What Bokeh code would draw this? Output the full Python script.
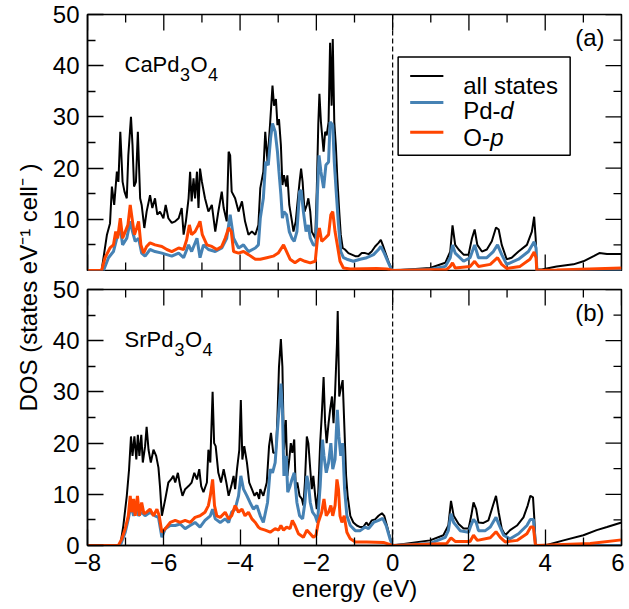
import math
from bokeh.plotting import figure
from bokeh.models import Range1d, FixedTicker, Span, Label, BoxAnnotation
from bokeh.layouts import row, column
from bokeh.embed import file_html
from bokeh.resources import INLINE

# ---------------- data ----------------
ca_all_e = [-8, -7.63, -7.49, -7.41, -7.36, -7.30, -7.23, -7.19, -7.14, -7.08, -7.03, -6.97, -6.93, -6.86, -6.82, -6.78, -6.73, -6.68, -6.62, -6.58, -6.51, -6.45, -6.36, -6.30, -6.23, -6.17, -6.10, -6.01, -5.95, -5.88, -5.79, -5.70, -5.61, -5.53, -5.48, -5.42, -5.35, -5.31, -5.27, -5.22, -5.18, -5.13, -5.09, -5.05, -5.00, -4.92, -4.83, -4.74, -4.65, -4.57, -4.48, -4.43, -4.35, -4.30, -4.26, -4.22, -4.13, -4.04, -3.95, -3.87, -3.78, -3.69, -3.60, -3.52, -3.47, -3.39, -3.34, -3.28, -3.21, -3.15, -3.11, -3.06, -3.02, -2.98, -2.93, -2.89, -2.85, -2.79, -2.76, -2.71, -2.64, -2.60, -2.54, -2.50, -2.44, -2.40, -2.36, -2.31, -2.25, -2.21, -2.16, -2.12, -2.03, -1.99, -1.95, -1.92, -1.88, -1.81, -1.77, -1.73, -1.68, -1.64, -1.60, -1.57, -1.53, -1.49, -1.45, -1.40, -1.36, -1.31, -1.25, -1.16, -1.07, -0.98, -0.90, -0.81, -0.72, -0.63, -0.55, -0.46, -0.37, -0.31, -0.26, -0.20, -0.11, -0.02, 0.02, 0.98, 1.38, 1.51, 1.57, 1.64, 1.73, 1.86, 1.99, 2.08, 2.15, 2.22, 2.34, 2.47, 2.60, 2.71, 2.78, 2.86, 2.99, 3.12, 3.30, 3.52, 3.65, 3.71, 3.75, 3.78, 3.91, 4.30, 4.74, 5.00, 5.27, 5.42, 5.62, 6.0]
ca_all_v = [0, 0, 7, 9.2, 16.4, 12.8, 19.3, 17.3, 27.1, 17.3, 15.4, 14.1, 22.5, 30, 24.5, 16.4, 17.3, 27.1, 14.1, 12.8, 8.3, 11.5, 14.7, 12.2, 14.1, 10.9, 11.5, 10.2, 12.8, 10.2, 9.3, 9.6, 10.2, 12.2, 7, 9.6, 14.1, 19.3, 13.5, 18, 14.1, 19.3, 12.2, 19.9, 17.3, 14.1, 11.5, 12.8, 7.6, 11.5, 15.4, 12.2, 9.6, 23.2, 22.5, 15.4, 14.1, 11.5, 13.5, 9.6, 7, 7.6, 7, 8.9, 16.1, 19.3, 27.1, 21.2, 29, 36.1, 32.2, 33.5, 28.4, 29.6, 24.5, 16.7, 18.6, 16.4, 18.6, 12.8, 9.6, 7.6, 9.6, 12.8, 17.3, 19.9, 17.3, 11.5, 12.8, 14.1, 11.5, 7.6, 6.3, 15.4, 28.4, 34.5, 29, 23.2, 27.1, 26.4, 29, 44.5, 32.2, 45.2, 29, 24.5, 18, 11.5, 7, 4.4, 4.1, 3.4, 3.1, 2.8, 2.8, 3.4, 3.4, 3.2, 3.7, 4.7, 5.4, 6, 5, 3.7, 1.8, 0.2, 0, 0.5, 1.5, 3.7, 8.8, 5, 4.1, 3.1, 3.1, 6.3, 8, 5, 3.7, 4.1, 5.7, 8.4, 8, 5, 2.2, 2.5, 3.7, 5, 7.6, 10.5, 6.3, 0.2, 0.2, 0.8, 1.2, 1.8, 2.8, 3.4, 3.2, 3.2]

ca_pd_e = [-8, -7.58, -7.45, -7.32, -7.23, -7.14, -7.08, -6.97, -6.88, -6.82, -6.75, -6.66, -6.58, -6.49, -6.36, -6.23, -6.05, -5.92, -5.79, -5.61, -5.48, -5.35, -5.27, -5.13, -5.05, -4.96, -4.83, -4.65, -4.48, -4.35, -4.26, -4.17, -4.04, -3.91, -3.78, -3.60, -3.52, -3.47, -3.39, -3.33, -3.26, -3.20, -3.15, -3.08, -3.02, -2.98, -2.93, -2.89, -2.85, -2.78, -2.71, -2.64, -2.58, -2.51, -2.44, -2.40, -2.34, -2.27, -2.21, -2.16, -2.08, -2.01, -1.97, -1.93, -1.88, -1.81, -1.75, -1.68, -1.64, -1.57, -1.53, -1.48, -1.42, -1.36, -1.29, -1.20, -1.03, -0.85, -0.68, -0.50, -0.37, -0.31, -0.22, -0.11, -0.02, 0.98, 1.38, 1.51, 1.57, 1.64, 1.86, 2.03, 2.15, 2.25, 2.47, 2.64, 2.75, 2.86, 2.99, 3.30, 3.56, 3.71, 3.76, 3.78, 6.0]
ca_pd_v = [0, 0, 2.5, 3.7, 6.3, 8.3, 5, 6.3, 9.6, 7.6, 5.7, 6.3, 3.4, 2.8, 4.1, 3.7, 3.4, 3.1, 2.8, 3.4, 2.5, 5, 3.7, 6.3, 2.5, 5, 4.1, 3.7, 4.4, 6.3, 10.9, 6.3, 4.4, 5, 3.7, 4.4, 5, 10.2, 14.1, 21.2, 20.6, 25.8, 28.7, 27.1, 23.2, 19.3, 14.8, 10.2, 11.5, 10.9, 7.6, 6.3, 5.7, 7.6, 15.4, 15.7, 11.5, 7.6, 8.9, 6.3, 5, 5, 15.4, 22.5, 19.3, 16.1, 20.6, 21.2, 29, 28.4, 21.2, 15.4, 8.9, 3.7, 2.5, 2.2, 1.8, 2.2, 2.5, 3.1, 4.1, 4.7, 3.4, 1.5, 0, 0.2, 0.8, 2.5, 5, 3.4, 1.8, 2.5, 5, 2.5, 2.5, 3.7, 5, 3.1, 1.2, 2.2, 3.7, 5.6, 4.4, 0, 0]

ca_o_e = [-8, -7.63, -7.54, -7.41, -7.32, -7.26, -7.21, -7.14, -7.08, -7.01, -6.94, -6.88, -6.82, -6.77, -6.71, -6.66, -6.60, -6.53, -6.45, -6.36, -6.23, -6.05, -5.92, -5.79, -5.61, -5.48, -5.40, -5.33, -5.27, -5.18, -5.09, -5.05, -4.99, -4.87, -4.74, -4.61, -4.48, -4.39, -4.30, -4.23, -4.17, -4.04, -3.91, -3.78, -3.60, -3.47, -3.30, -3.13, -3.0, -2.86, -2.78, -2.69, -2.56, -2.43, -2.30, -2.16, -2.03, -1.97, -1.92, -1.86, -1.77, -1.68, -1.62, -1.57, -1.51, -1.45, -1.38, -1.29, -1.11, -0.42, -0.15, 0, 1.42, 1.51, 1.57, 1.64, 2.03, 2.15, 2.25, 2.56, 2.75, 2.86, 2.99, 3.34, 3.60, 3.71, 3.76, 3.78, 4.3, 6.0]
ca_o_v = [0, 0, 2.5, 4.4, 5, 7.6, 6.3, 10.2, 6.3, 7.6, 8.9, 12.8, 9.6, 7, 8.3, 9.6, 5, 3.4, 4.7, 5.4, 5, 4.7, 4.1, 3.7, 4.4, 4.1, 6, 8.9, 7, 7.6, 8.9, 9.6, 7, 5, 4.7, 4.1, 4.7, 6.3, 8.3, 7.6, 3.7, 3.4, 3.7, 3.1, 2.2, 2.2, 2.5, 2.8, 3.4, 5, 3.7, 2.2, 1.5, 2.2, 1.8, 1.5, 1.8, 6.3, 8.3, 5.7, 6.3, 7, 10.9, 11.5, 7.6, 5, 1.8, 0.5, 0.3, 0.4, 0.3, 0, 0.2, 0.8, 1.5, 0.5, 0.8, 1.8, 0.8, 1.2, 2.5, 1.2, 0.4, 0.8, 2.2, 3.6, 2.5, 0, 0.1, 0.5]

sr_all_e = [-8, -7.19, -7.14, -7.06, -6.97, -6.91, -6.86, -6.82, -6.77, -6.72, -6.68, -6.64, -6.59, -6.55, -6.49, -6.45, -6.40, -6.34, -6.27, -6.20, -6.14, -6.10, -6.05, -5.96, -5.88, -5.81, -5.75, -5.70, -5.63, -5.57, -5.51, -5.44, -5.35, -5.27, -5.20, -5.13, -5.07, -5.02, -4.96, -4.87, -4.83, -4.78, -4.72, -4.68, -4.64, -4.57, -4.50, -4.43, -4.36, -4.30, -4.23, -4.17, -4.13, -4.08, -4.02, -3.98, -3.94, -3.89, -3.82, -3.76, -3.69, -3.62, -3.56, -3.50, -3.47, -3.39, -3.30, -3.24, -3.19, -3.13, -3.06, -3.02, -2.98, -2.93, -2.89, -2.85, -2.80, -2.76, -2.71, -2.67, -2.63, -2.58, -2.54, -2.50, -2.44, -2.38, -2.34, -2.30, -2.25, -2.21, -2.16, -2.12, -2.08, -2.03, -1.99, -1.95, -1.90, -1.86, -1.81, -1.77, -1.73, -1.68, -1.64, -1.59, -1.55, -1.51, -1.46, -1.44, -1.40, -1.35, -1.31, -1.26, -1.22, -1.18, -1.11, -1.03, -0.94, -0.85, -0.77, -0.69, -0.63, -0.55, -0.46, -0.37, -0.28, -0.22, -0.15, -0.07, 0, 0.98, 1.33, 1.46, 1.53, 1.60, 1.73, 1.86, 1.99, 2.06, 2.12, 2.19, 2.25, 2.38, 2.51, 2.63, 2.71, 2.78, 2.86, 2.95, 3.08, 3.26, 3.43, 3.54, 3.61, 3.68, 3.71, 3.75, 4.04, 4.48, 5.00, 5.35, 5.62, 6.0]
sr_all_v = [0, 0, 0.05, 3.9, 9.7, 14.9, 21.3, 17.5, 21.3, 16.8, 21.6, 17.5, 21.6, 16.2, 19.4, 23.2, 18.7, 16.2, 18.7, 17.5, 15.2, 11.6, 5.8, 9.1, 12.3, 12.9, 13.6, 12.3, 14.2, 11.6, 9.7, 11, 11.6, 12.3, 14.2, 12.9, 14.9, 11.6, 10.4, 12.3, 18.7, 16.2, 30, 20, 19.4, 14.2, 12.3, 14.9, 12.3, 9.7, 11.6, 13.6, 11, 14.9, 18.7, 28.4, 16.8, 19.4, 16.2, 12.3, 11, 9.7, 10.4, 9.1, 11, 9.7, 12.3, 19.4, 22, 18.1, 18.1, 25.2, 34.9, 40.3, 34.9, 18.7, 24.5, 13.6, 16.8, 20, 18.1, 20.7, 11, 12.3, 9.7, 9.1, 7.8, 12.3, 21.3, 20, 14.9, 11, 13.6, 9.7, 7.1, 10.4, 20, 25.2, 32.9, 23.9, 20, 23.9, 26.5, 29.1, 23.9, 29.7, 39.4, 45.8, 29.1, 31, 32.3, 22, 13.6, 9.7, 5.8, 4.5, 3.9, 3.6, 3.6, 4.5, 3.9, 4.9, 5.1, 5.8, 6.3, 5.8, 3.9, 1.6, 0, 1, 2, 3.9, 8.7, 5.8, 4.2, 3.3, 3.3, 5.8, 8.4, 7.1, 4.5, 4.4, 4.9, 7.8, 9.7, 6.5, 3.3, 2, 3, 3.9, 5.5, 7.8, 9.7, 9.4, 5.8, 0.1, 0.1, 1.0, 2, 3, 3.6, 4.5]

sr_pd_e = [-8, -7.14, -7.01, -6.93, -6.86, -6.79, -6.73, -6.66, -6.58, -6.49, -6.36, -6.23, -6.14, -6.05, -5.96, -5.83, -5.70, -5.57, -5.44, -5.31, -5.18, -5.05, -4.92, -4.78, -4.72, -4.65, -4.52, -4.39, -4.30, -4.22, -4.13, -4.04, -3.98, -3.91, -3.82, -3.74, -3.65, -3.56, -3.47, -3.39, -3.28, -3.21, -3.15, -3.08, -3.02, -2.98, -2.93, -2.89, -2.85, -2.79, -2.75, -2.69, -2.64, -2.58, -2.51, -2.44, -2.36, -2.30, -2.25, -2.21, -2.16, -2.10, -2.03, -1.97, -1.90, -1.84, -1.80, -1.74, -1.68, -1.62, -1.57, -1.51, -1.45, -1.41, -1.36, -1.31, -1.26, -1.20, -1.11, -0.98, -0.85, -0.72, -0.63, -0.50, -0.37, -0.26, -0.17, -0.07, 0, 0.98, 1.38, 1.46, 1.53, 1.60, 1.77, 1.99, 2.05, 2.12, 2.19, 2.25, 2.43, 2.56, 2.71, 2.78, 2.91, 3.08, 3.30, 3.52, 3.61, 3.69, 3.73, 3.75, 6.0]
sr_pd_v = [0, 0, 2.6, 5.2, 7.8, 5.8, 7.1, 5.8, 6.5, 5.8, 6.5, 5.8, 5.5, 1.6, 3.3, 3.9, 3.9, 4.2, 3.3, 3.9, 4.5, 3.6, 4.9, 5.8, 7.1, 5.2, 4.5, 5.2, 4.5, 6.5, 7.1, 9.7, 13.6, 11, 9.7, 8.4, 7.1, 7.8, 5.8, 4.5, 8.4, 14.9, 14.2, 16.2, 22.6, 26.5, 31.6, 26.5, 13.6, 17.5, 10.4, 11.6, 12.9, 14.2, 8.4, 5.8, 5.2, 8.4, 13.6, 12.3, 8.4, 6.5, 5.8, 4.5, 11.6, 20.7, 17.5, 14.2, 16.2, 20, 14.9, 16.8, 26.5, 21.3, 17.5, 20, 11, 5.8, 3.9, 2.9, 2.9, 3.6, 3.3, 4.5, 4.9, 5.3, 3.9, 1.3, 0, 0.4, 1.6, 2.9, 6.2, 4.5, 2.9, 2.6, 3.9, 5.1, 4.5, 2.9, 2.9, 3.6, 5.5, 4.2, 2, 1.3, 2.3, 3.9, 5.1, 5.1, 1.3, 0, 0]

sr_o_e = [-8, -7.19, -7.10, -7.01, -6.93, -6.88, -6.84, -6.79, -6.75, -6.69, -6.64, -6.58, -6.52, -6.45, -6.36, -6.27, -6.18, -6.12, -6.05, -5.96, -5.83, -5.70, -5.57, -5.44, -5.31, -5.18, -5.05, -4.92, -4.83, -4.78, -4.72, -4.67, -4.61, -4.52, -4.39, -4.30, -4.22, -4.13, -4.04, -3.95, -3.87, -3.78, -3.69, -3.60, -3.52, -3.47, -3.34, -3.21, -3.08, -2.99, -2.93, -2.86, -2.78, -2.69, -2.63, -2.56, -2.47, -2.34, -2.25, -2.16, -2.08, -2.01, -1.95, -1.86, -1.80, -1.74, -1.68, -1.62, -1.57, -1.51, -1.46, -1.42, -1.38, -1.33, -1.27, -1.20, -1.11, -0.98, -0.68, -0.24, 0, 1.42, 1.53, 1.64, 2.03, 2.12, 2.22, 2.56, 2.71, 2.82, 2.95, 3.26, 3.52, 3.62, 3.69, 3.74, 3.78, 5.18, 6.0]
sr_o_v = [0, 0, 1.3, 3.3, 5.8, 9.7, 6.5, 9.1, 5.8, 9.7, 5.8, 8.4, 6.2, 6.5, 7.1, 5.8, 7.1, 5.8, 2.6, 3.3, 4.5, 4.9, 4.5, 4.9, 4.5, 5.5, 5.8, 6.5, 7.8, 9.7, 12.9, 7.8, 5.8, 5.5, 6.5, 5.2, 5.8, 7.8, 6.5, 7.1, 5.8, 6.5, 5.2, 4.5, 3.6, 3.3, 3, 2.6, 3.3, 3, 3.9, 3, 3.6, 3.3, 4.9, 3.9, 2.3, 1.6, 3, 2.3, 1.6, 2, 4.5, 6.5, 9.1, 5.8, 6.5, 7.8, 5.8, 7.8, 12.9, 11, 5.8, 4.5, 5.8, 2.6, 1.3, 0.7, 0.7, 0.6, 0, 0.4, 1.5, 0.8, 0.8, 2, 1, 1.5, 2.7, 1.6, 0.7, 1, 2.3, 3.6, 3.6, 0.3, 0, 0.4, 1.1]

x_major = [-8, -6, -4, -2, 0, 2, 4, 6]
x_minor = [-7, -5, -3, -1, 1, 3, 5]
y_major_a = [10, 20, 30, 40, 50]
y_major_b = [0, 10, 20, 30, 40, 50]
y_all_major = [0, 10, 20, 30, 40, 50]
y_minor = [5, 15, 25, 35, 45]
legend_labels = ["all states", "Pd-", "O-"]
legend_italic = ["", "d", "p"]
panel_tags = ["(a)", "(b)"]

C_ALL = "#000000"
C_PD = "#4682b4"
C_O = "#ff4500"
FONT = "Liberation Sans"
FS = "24px"
MAJ, MIN = 16, 8
FW, FH = 534, 256


def style_axis(ax, ticks, minor):
    ax.ticker = FixedTicker(ticks=ticks, minor_ticks=minor)
    ax.axis_line_color = "black"
    ax.axis_line_width = 1.5
    ax.major_tick_in = MAJ
    ax.major_tick_out = 0
    ax.minor_tick_in = MIN
    ax.minor_tick_out = 0
    ax.major_tick_line_color = "black"
    ax.minor_tick_line_color = "black"
    ax.major_tick_line_width = 1.3
    ax.minor_tick_line_width = 1.3
    ax.major_label_text_font = FONT
    ax.major_label_text_color = "black"
    ax.major_label_text_font_size = FS
    ax.major_label_standoff = 8


def tick_rays(p, xs, ys, length, angle):
    p.ray(x=xs, y=ys, length=length, angle=angle, length_units="screen",
          line_color="black", line_width=1.3)


def make_panel(e_all, v_all, e_pd, v_pd, e_o, v_o, ymaj, bottom_labels, tag, top_b, bot_b):
    p = figure(frame_width=FW, frame_height=FH, x_range=Range1d(-8, 6), y_range=Range1d(0, 50),
               output_backend="svg", toolbar_location=None,
               x_axis_location=("below" if bottom_labels else None),
               min_border_left=44, min_border_right=3, min_border_top=top_b, min_border_bottom=bot_b)
    p.xgrid.visible = False
    p.ygrid.visible = False
    p.outline_line_color = "black"
    p.outline_line_width = 1.5
    p.background_fill_color = "white"
    p.border_fill_color = "white"
    if bottom_labels:
        style_axis(p.below[0], x_major, x_minor)
    else:
        tick_rays(p, x_major, [0] * len(x_major), MAJ, math.pi / 2)
        tick_rays(p, x_minor, [0] * len(x_minor), MIN, math.pi / 2)
    style_axis(p.left[0], ymaj, y_minor)
    # inward ticks on the top and right edges
    tick_rays(p, x_major, [50] * len(x_major), MAJ, -math.pi / 2)
    tick_rays(p, x_minor, [50] * len(x_minor), MIN, -math.pi / 2)
    tick_rays(p, [6] * len(y_all_major), y_all_major, MAJ, math.pi)
    tick_rays(p, [6] * len(y_minor), y_minor, MIN, math.pi)

    p.line(e_all, v_all, line_color=C_ALL, line_width=2)
    p.line(e_pd, v_pd, line_color=C_PD, line_width=3)
    p.line(e_o, v_o, line_color=C_O, line_width=3)
    p.add_layout(Span(location=0, dimension="height", line_color="black", line_width=1.2, line_dash="5 3"))

    p.add_layout(Label(x=5.555, y=45.6, text=tag, text_align="right", text_baseline="middle",
                       text_font=FONT, text_font_size=FS, text_color="black"))
    return p


pa = make_panel(ca_all_e, ca_all_v, ca_pd_e, ca_pd_v, ca_o_e, ca_o_v, y_major_a, False, panel_tags[0], 14, 1)
pb = make_panel(sr_all_e, sr_all_v, sr_pd_e, sr_pd_v, sr_o_e, sr_o_v, y_major_b, True, panel_tags[1], 18, 50)
xb = pb.below[0]
xb.axis_label = "energy (eV)"
xb.axis_label_text_font = FONT
xb.axis_label_text_font_size = FS
xb.axis_label_text_font_style = "normal"
xb.axis_label_text_color = "black"
xb.axis_label_standoff = 1


def formula(p, base, offs, y):
    kw = dict(text_font=FONT, text_color="black", text_baseline="alphabetic")
    p.add_layout(Label(x=-7.03, y=y, text=base + "Pd", text_font_size="22px", **kw))
    p.add_layout(Label(x=-7.03, y=y, x_offset=offs[0], y_offset=-10, text="3", text_font_size="18px", **kw))
    p.add_layout(Label(x=-7.03, y=y, x_offset=offs[1], text="O", text_font_size="22px", **kw))
    p.add_layout(Label(x=-7.03, y=y, x_offset=offs[2], y_offset=-10, text="4", text_font_size="18px", **kw))


formula(pa, "Ca", (55.5, 66, 83.5), 40.2)
formula(pb, "Sr", (50, 60.5, 78), 40.2)

# legend (panel a)
pa.add_layout(BoxAnnotation(left=0.144, right=4.654, bottom=22.5, top=41.7, fill_color="white",
                            fill_alpha=1, line_color="black", line_alpha=1, line_width=1.5,
                            level="underlay"))
leg_rows = [38.0, 32.8, 27.0]
leg_base = [36.2, 31.3, 25.9]
leg_cols = [C_ALL, C_PD, C_O]
leg_w = [2, 3, 3]
for yy, yb, col, w, lab, it in zip(leg_rows, leg_base, leg_cols, leg_w, legend_labels, legend_italic):
    pa.segment(x0=[0.46], y0=[yy], x1=[1.33], y1=[yy], line_color=col, line_width=w)
    pa.add_layout(Label(x=1.85, y=yb, text=lab, text_font=FONT, text_font_size=FS,
                        text_color="black", text_baseline="alphabetic"))
    if it:
        off = 37 if lab == "Pd-" else 27
        pa.add_layout(Label(x=1.85, y=yb, x_offset=off, text=it, text_font=FONT, text_font_size=FS,
                            text_font_style="italic", text_color="black", text_baseline="alphabetic"))

# shared y label
LH = 600
yl = figure(width=43, height=LH, x_range=Range1d(0, 1), y_range=Range1d(0, 1), output_backend="svg",
            toolbar_location=None, x_axis_type=None, y_axis_type=None, min_border=0)
yl.xgrid.visible = False
yl.ygrid.visible = False
yl.outline_line_color = None
yl.add_layout(Label(x=0.64, y=1 - 287 / LH, text="DOS (states eV\u207b\u00b9 cell\u207b )",
                    angle=math.pi / 2, text_align="center", text_baseline="middle",
                    text_font=FONT, text_font_size=FS, text_color="black"))

layout = row(yl, column(pa, pb, spacing=0), spacing=0)
open("out.html", "w").write(file_html(layout, INLINE))
